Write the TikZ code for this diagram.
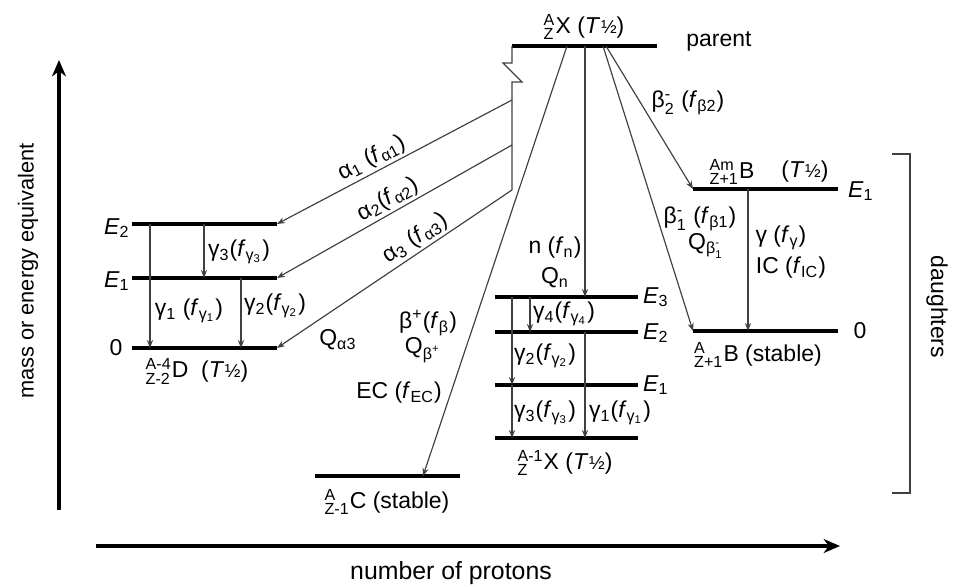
\documentclass[tikz,border=0pt]{standalone}
\usepackage{amsmath}
\usepackage{fontspec}
\setmainfont{Liberation Sans}
\usetikzlibrary{arrows.meta}

\newcommand{\nuc}[3]{${}^{\text{#1}}_{\text{#2}}$#3}
\newcommand{\thalf}{(\textit{T}\kern0.3pt{\footnotesize ½})}
\newcommand{\fsub}[1]{\textit{f}\textsubscript{#1}}
\newcommand{\bminus}[1]{β$^{\text{-}}_{\text{#1}}$}

\begin{document}
\begin{tikzpicture}[x=0.015cm, y=-0.015cm,
    lvlbar/.style={line width=2.1pt},
    thinln/.style={draw=black!75, line width=0.5pt},
    trans/.style={thinln, -{Stealth[length=3.4pt,width=2.6pt]}},
    axis/.style={line width=1.6pt, -{Stealth[length=7pt,width=6pt]}},
    lbl/.style={font=\fontsize{9.8}{11}\selectfont, inner sep=1pt}]
    \useasboundingbox (0,0) rectangle (955,587);

    % 坐标轴
    \coordinate (ybot) at (59,510);
    \coordinate (ytop) at (59,60);
    \coordinate (xl) at (96,546);
    \coordinate (xr) at (840,546);
    \draw[axis] (ybot) -- (ytop);
    \draw[axis] (xl) -- (xr);
    \node[lbl, font=\fontsize{9.3}{11}\selectfont, rotate=90] (ylab) at (28,271) {mass or energy equivalent};
    \node[lbl, font=\fontsize{10.6}{12}\selectfont] (xlab) at (451,573) {number of protons};

    % 母核能级
    \coordinate (Pl) at (512,46);
    \coordinate (Pr) at (657,46);
    \draw[lvlbar] (Pl) -- (Pr);
    \node[lbl] (Plab) at (584,27) {\nuc{A}{Z}{X} \thalf};
    \node[lbl] (parent) at (719,41) {parent};

    % 子核 D (alpha)
    \coordinate (D2l) at (132,224); \coordinate (D2r) at (277,224);
    \coordinate (D1l) at (132,278); \coordinate (D1r) at (277,278);
    \coordinate (D0l) at (132,348); \coordinate (D0r) at (277,348);
    \draw[lvlbar] (D2l) -- (D2r);
    \draw[lvlbar] (D1l) -- (D1r);
    \draw[lvlbar] (D0l) -- (D0r);
    \node[lbl] (DE2) at (117,228) {\textit{E}\textsubscript{2}};
    \node[lbl] (DE1) at (117,281) {\textit{E}\textsubscript{1}};
    \node[lbl] (DE0) at (116,348) {0};
    \node[lbl] (Dlab) at (197,371) {\nuc{A-4}{Z-2}{D}\ \ \thalf};
    \draw[trans] (150,0 |- D2l) -- (150,0 |- D0l);
    \draw[trans] (204,0 |- D2l) -- (204,0 |- D1l);
    \draw[trans] (241,0 |- D1l) -- (241,0 |- D0l);
    \node[lbl] (g3D) at (239,252) {γ\textsubscript{3}(\fsub{γ\textsubscript{3}})};
    \node[lbl] (g1D) at (189,311) {γ\textsubscript{1} (\fsub{γ\textsubscript{1}})};
    \node[lbl] (g2D) at (275,306) {γ\textsubscript{2}(\fsub{γ\textsubscript{2}})};

    % alpha 跃迁，带折线
    \coordinate (a1) at (512,100);
    \coordinate (a2) at (512,145);
    \coordinate (a3) at (512,190);
    \draw[thinln] (Pl) -- (512,63) -- (503,63) -- (522,82) -- (512,82) -- (a3);
    \draw[trans] (a1) -- node[lbl, sloped, above, pos=0.57] (a1lab) {α\textsubscript{1} (\fsub{α1})} (D2r);
    \draw[trans] (a2) -- node[lbl, sloped, above, pos=0.5] (a2lab) {α\textsubscript{2}(\fsub{α2})} (D1r);
    \draw[trans] (a3) -- node[lbl, sloped, above, pos=0.38] (a3lab) {α\textsubscript{3} (\fsub{α3})} (D0r);
    \node[lbl] (Qa3) at (338,340) {Q\textsubscript{α3}};

    % 子核 C (beta+ / EC)
    \coordinate (Cl) at (315,476); \coordinate (Cr) at (460,476);
    \draw[lvlbar] (Cl) -- (Cr);
    \node[lbl] (Clab) at (387,502) {\nuc{A}{Z-1}{C} (stable)};
    \draw[trans] (567,0 |- Pl) -- (423,0 |- Cl);
    \node[lbl] (bp) at (428,323) {β\textsuperscript{+}(\fsub{β})};
    \node[lbl] (Qbp) at (423,350) {Q\textsubscript{β\textsuperscript{+}}};
    \node[lbl] (EC) at (399,393) {EC (\fsub{EC})};

    % 子核 X (中子发射)
    \coordinate (X3l) at (495,297); \coordinate (X3r) at (638,297);
    \coordinate (X2l) at (495,332); \coordinate (X2r) at (638,332);
    \coordinate (X1l) at (495,385); \coordinate (X1r) at (638,385);
    \coordinate (X0l) at (495,438); \coordinate (X0r) at (638,438);
    \draw[lvlbar] (X3l) -- (X3r);
    \draw[lvlbar] (X2l) -- (X2r);
    \draw[lvlbar] (X1l) -- (X1r);
    \draw[lvlbar] (X0l) -- (X0r);
    \node[lbl] (XE3) at (656,297) {\textit{E}\textsubscript{3}};
    \node[lbl] (XE2) at (656,333) {\textit{E}\textsubscript{2}};
    \node[lbl] (XE1) at (656,385) {\textit{E}\textsubscript{1}};
    \node[lbl] (Xlab) at (565,463) {\nuc{A-1}{Z}{X} \thalf};
    \draw[trans] (585,0 |- Pl) -- (585,0 |- X3l);
    \node[lbl] (nlab) at (555,248) {n (\fsub{n})};
    \node[lbl] (Qn) at (555,278) {Q\textsubscript{n}};
    \draw[trans] (512,0 |- X3l) -- (512,0 |- X1l);
    \draw[trans] (512,0 |- X1l) -- (512,0 |- X0l);
    \draw[trans] (530,0 |- X3l) -- (530,0 |- X2l);
    \draw[trans] (585,0 |- X2l) -- (585,0 |- X0l);
    \node[lbl] (g4X) at (564,314) {γ\textsubscript{4}(\fsub{γ\textsubscript{4}})};
    \node[lbl] (g2X) at (545,356) {γ\textsubscript{2}(\fsub{γ\textsubscript{2}})};
    \node[lbl] (g3X) at (545,413) {γ\textsubscript{3}(\fsub{γ\textsubscript{3}})};
    \node[lbl] (g1X) at (620,413) {γ\textsubscript{1}(\fsub{γ\textsubscript{1}})};

    % 子核 B (beta-)
    \coordinate (Bml) at (693,189); \coordinate (Bmr) at (838,189);
    \coordinate (B0l) at (693,331); \coordinate (B0r) at (838,331);
    \draw[lvlbar] (Bml) -- (Bmr);
    \draw[lvlbar] (B0l) -- (B0r);
    \draw[trans] (606,0 |- Pl) -- (Bml);
    \draw[trans] (603,0 |- Pl) -- (B0l);
    \node[lbl] (b2) at (688,103) {\bminus{2} (\fsub{β2})};
    \node[lbl] (b1) at (700,219) {\bminus{1} (\fsub{β1})};
    \node[lbl] (Qb1) at (706,246) {Q\textsubscript{\bminus{1}}};
    \node[lbl] (Bmlab) at (732,172) {\nuc{Am}{Z+1}{B}};
    \node[lbl] (Bmt) at (805,172) {\thalf};
    \node[lbl] (BE1) at (861,191) {\textit{E}\textsubscript{1}};
    \node[lbl] (BE0) at (860,331) {0};
    \draw[trans] (748,0 |- Bml) -- (748,0 |- B0l);
    \node[lbl] (gB) at (781,238) {γ (\fsub{γ})};
    \node[lbl] (IC) at (791,268) {IC (\fsub{IC})};
    \node[lbl] (B0lab) at (758,355) {\nuc{A}{Z+1}{B} (stable)};

    % 子核括号
    \coordinate (brt) at (892,154);
    \coordinate (brb) at (892,493);
    \draw[thinln] (brt) -- (910,0 |- brt) -- (910,0 |- brb) -- (brb);
    \node[lbl, rotate=-90] (daughters) at (937,307) {daughters};
\end{tikzpicture}
\end{document}
